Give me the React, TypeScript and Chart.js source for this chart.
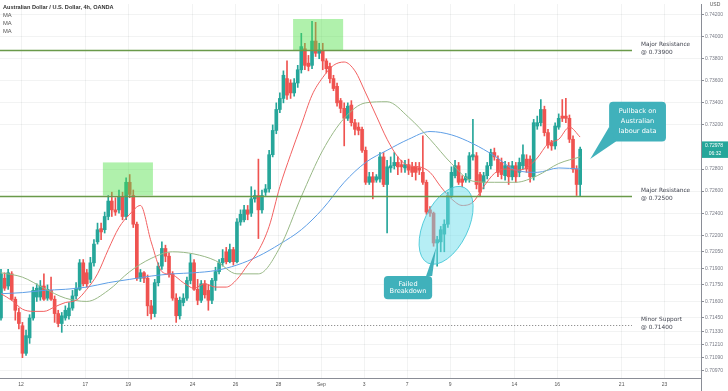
import React, { useEffect, useRef } from 'react';
import { Chart, registerables } from 'chart.js';

Chart.register(...registerables);

// ---------- DATA (AUD/USD 4h, OANDA) ----------
const OPEN = [
  0.7145, 0.7181, 0.7174, 0.7185, 0.7162, 0.7150, 0.7138, 0.7113, 0.7127, 0.7145,
  0.7164, 0.7164, 0.7174, 0.7163, 0.7170, 0.7162, 0.7149, 0.7140, 0.7145, 0.7147,
  0.7154, 0.7165, 0.7171, 0.7195, 0.7186, 0.7180, 0.7195, 0.7214, 0.7226, 0.7225,
  0.7237, 0.7251, 0.7243, 0.7243, 0.7255, 0.7237, 0.7268, 0.7256, 0.7230, 0.7181,
  0.7186, 0.7181, 0.7156, 0.7149, 0.7177, 0.7192, 0.7208, 0.7201, 0.7185, 0.7163,
  0.7147, 0.7159, 0.7163, 0.7179, 0.7195, 0.7171, 0.7161, 0.7176, 0.7170, 0.7161,
  0.7179, 0.7187, 0.7195, 0.7205, 0.7196, 0.7207, 0.7196, 0.7232, 0.7234, 0.7243,
  0.7240, 0.7253, 0.7256, 0.7243, 0.7259, 0.7262, 0.7293, 0.7315, 0.7334, 0.7344,
  0.7362, 0.7358, 0.7349, 0.7358, 0.7370, 0.7389, 0.7376, 0.7374, 0.7396, 0.7385,
  0.7387, 0.7378, 0.7373, 0.7362, 0.7355, 0.7342, 0.7335, 0.7326, 0.7338, 0.7322,
  0.7318, 0.7316, 0.7297, 0.7268, 0.7273, 0.7270, 0.7271, 0.7291, 0.7266, 0.7281,
  0.7283, 0.7286, 0.7284, 0.7281, 0.7284, 0.7282, 0.7282, 0.7281, 0.7277, 0.7268,
  0.7243, 0.7240, 0.7213, 0.7214, 0.7221, 0.7230, 0.7256, 0.7274, 0.7283, 0.7271,
  0.7270, 0.7271, 0.7291, 0.7292, 0.7275, 0.7268, 0.7274, 0.7283, 0.7295, 0.7289,
  0.7286, 0.7274, 0.7283, 0.7273, 0.7283, 0.7277, 0.7283, 0.7289, 0.7289, 0.7273,
  0.7319, 0.7322, 0.7334, 0.7313, 0.7304, 0.7301, 0.7318, 0.7328, 0.7328, 0.7326,
  0.7307, 0.7280, 0.7266,
];
const HIGH = [
  0.7189, 0.7186, 0.7189, 0.7187, 0.7164, 0.7154, 0.7141, 0.7134, 0.7148, 0.7173,
  0.7176, 0.7179, 0.7185, 0.7175, 0.7182, 0.7165, 0.7152, 0.7150, 0.7156, 0.7159,
  0.7170, 0.7177, 0.7198, 0.7198, 0.7189, 0.7200, 0.7216, 0.7231, 0.7231, 0.7241,
  0.7256, 0.7259, 0.7254, 0.7261, 0.7259, 0.7272, 0.7275, 0.7261, 0.7232, 0.7189,
  0.7187, 0.7184, 0.7161, 0.7180, 0.7195, 0.7214, 0.7211, 0.7204, 0.7187, 0.7167,
  0.7164, 0.7167, 0.7182, 0.7203, 0.7198, 0.7180, 0.7179, 0.7179, 0.7175, 0.7181,
  0.7191, 0.7198, 0.7207, 0.7209, 0.7212, 0.7209, 0.7235, 0.7243, 0.7247, 0.7247,
  0.7264, 0.7261, 0.7289, 0.7261, 0.7266, 0.7297, 0.7320, 0.7340, 0.7349, 0.7369,
  0.7378, 0.7361, 0.7362, 0.7374, 0.7403, 0.7394, 0.7383, 0.7414, 0.7413, 0.7394,
  0.7394, 0.7380, 0.7376, 0.7365, 0.7358, 0.7344, 0.7340, 0.7340, 0.7342, 0.7325,
  0.7322, 0.7318, 0.7300, 0.7277, 0.7277, 0.7275, 0.7295, 0.7295, 0.7288, 0.7291,
  0.7295, 0.7291, 0.7288, 0.7288, 0.7289, 0.7286, 0.7286, 0.7286, 0.7310, 0.7270,
  0.7246, 0.7241, 0.7219, 0.7228, 0.7234, 0.7259, 0.7282, 0.7288, 0.7286, 0.7274,
  0.7276, 0.7295, 0.7325, 0.7295, 0.7277, 0.7277, 0.7286, 0.7298, 0.7299, 0.7292,
  0.7290, 0.7287, 0.7286, 0.7287, 0.7286, 0.7290, 0.7302, 0.7293, 0.7292, 0.7325,
  0.7328, 0.7343, 0.7337, 0.7316, 0.7306, 0.7322, 0.7330, 0.7343, 0.7344, 0.7329,
  0.7310, 0.7283, 0.7300,
];
const LOW = [
  0.7143, 0.7170, 0.7171, 0.7161, 0.7143, 0.7135, 0.7109, 0.7111, 0.7122, 0.7143,
  0.7160, 0.7161, 0.7161, 0.7161, 0.7161, 0.7141, 0.7137, 0.7132, 0.7143, 0.7144,
  0.7152, 0.7162, 0.7170, 0.7174, 0.7173, 0.7177, 0.7192, 0.7212, 0.7216, 0.7222,
  0.7234, 0.7237, 0.7238, 0.7240, 0.7234, 0.7234, 0.7254, 0.7227, 0.7179, 0.7178,
  0.7177, 0.7147, 0.7144, 0.7146, 0.7174, 0.7189, 0.7196, 0.7182, 0.7161, 0.7141,
  0.7144, 0.7156, 0.7161, 0.7176, 0.7170, 0.7157, 0.7159, 0.7163, 0.7152, 0.7158,
  0.7170, 0.7185, 0.7192, 0.7194, 0.7195, 0.7193, 0.7195, 0.7229, 0.7232, 0.7234,
  0.7237, 0.7250, 0.7217, 0.7240, 0.7256, 0.7259, 0.7291, 0.7312, 0.7331, 0.7340,
  0.7343, 0.7344, 0.7346, 0.7354, 0.7367, 0.7370, 0.7369, 0.7371, 0.7382, 0.7380,
  0.7370, 0.7367, 0.7358, 0.7351, 0.7337, 0.7331, 0.7301, 0.7324, 0.7319, 0.7311,
  0.7311, 0.7295, 0.7266, 0.7266, 0.7253, 0.7268, 0.7268, 0.7264, 0.7222, 0.7277,
  0.7280, 0.7275, 0.7277, 0.7277, 0.7275, 0.7273, 0.7270, 0.7275, 0.7266, 0.7239,
  0.7237, 0.7210, 0.7192, 0.7205, 0.7205, 0.7227, 0.7254, 0.7272, 0.7266, 0.7264,
  0.7268, 0.7268, 0.7288, 0.7262, 0.7255, 0.7262, 0.7271, 0.7280, 0.7288, 0.7273,
  0.7271, 0.7270, 0.7266, 0.7270, 0.7268, 0.7273, 0.7280, 0.7277, 0.7268, 0.7270,
  0.7316, 0.7319, 0.7310, 0.7299, 0.7297, 0.7298, 0.7316, 0.7323, 0.7322, 0.7304,
  0.7277, 0.7256, 0.7255,
];
const CLOSE = [
  0.7185, 0.7172, 0.7186, 0.7162, 0.7152, 0.7140, 0.7113, 0.7129, 0.7145, 0.7170,
  0.7172, 0.7174, 0.7162, 0.7171, 0.7162, 0.7149, 0.7140, 0.7147, 0.7152, 0.7154,
  0.7165, 0.7172, 0.7195, 0.7176, 0.7176, 0.7195, 0.7212, 0.7225, 0.7223, 0.7237,
  0.7251, 0.7243, 0.7241, 0.7255, 0.7237, 0.7268, 0.7257, 0.7230, 0.7181, 0.7186,
  0.7181, 0.7156, 0.7149, 0.7177, 0.7192, 0.7208, 0.7201, 0.7185, 0.7163, 0.7147,
  0.7161, 0.7163, 0.7179, 0.7195, 0.7171, 0.7161, 0.7176, 0.7166, 0.7161, 0.7179,
  0.7187, 0.7195, 0.7199, 0.7196, 0.7207, 0.7196, 0.7232, 0.7239, 0.7243, 0.7239,
  0.7253, 0.7256, 0.7243, 0.7256, 0.7262, 0.7293, 0.7315, 0.7334, 0.7344, 0.7365,
  0.7347, 0.7349, 0.7358, 0.7370, 0.7391, 0.7374, 0.7373, 0.7396, 0.7385, 0.7388,
  0.7378, 0.7371, 0.7362, 0.7353, 0.7340, 0.7335, 0.7326, 0.7337, 0.7322, 0.7316,
  0.7315, 0.7297, 0.7268, 0.7273, 0.7268, 0.7273, 0.7291, 0.7266, 0.7282, 0.7283,
  0.7286, 0.7282, 0.7282, 0.7284, 0.7279, 0.7277, 0.7277, 0.7279, 0.7268, 0.7241,
  0.7240, 0.7213, 0.7216, 0.7225, 0.7230, 0.7256, 0.7277, 0.7283, 0.7268, 0.7268,
  0.7273, 0.7292, 0.7293, 0.7266, 0.7259, 0.7274, 0.7283, 0.7295, 0.7291, 0.7277,
  0.7275, 0.7283, 0.7273, 0.7283, 0.7273, 0.7286, 0.7293, 0.7280, 0.7273, 0.7322,
  0.7322, 0.7334, 0.7313, 0.7302, 0.7301, 0.7319, 0.7326, 0.7326, 0.7326, 0.7307,
  0.7280, 0.7266, 0.7298,
];

// Moving averages, read at sampled candle positions
const MA_FAST_AT = [
  0, 3, 6, 9, 12, 15, 18, 21, 24, 27, 30, 33, 36, 39, 42, 45, 48, 51, 54, 57,
  60, 63, 66, 69, 72, 75, 78, 81, 84, 87, 90, 93, 96, 99, 102, 105, 108, 111, 114, 117,
  120, 123, 126, 129, 132, 135, 138, 141, 144, 147, 150, 153, 156, 159, 162,
];
const MA_FAST = [
  0.7167, 0.7161, 0.7153, 0.7151, 0.7151, 0.7155, 0.7159, 0.7161, 0.7171, 0.7185,
  0.7207, 0.7227, 0.7239, 0.7247, 0.7214, 0.7187, 0.7184, 0.7177, 0.7172, 0.7176,
  0.7173, 0.7173, 0.7180, 0.7193, 0.7206, 0.7228, 0.7264, 0.7293, 0.7320, 0.7347,
  0.7363, 0.7374, 0.7377, 0.7369, 0.7349, 0.7328, 0.7307, 0.7291, 0.7283, 0.7282,
  0.7277, 0.7264, 0.7253, 0.7247, 0.7250, 0.7264, 0.7276, 0.7280, 0.7279, 0.7281,
  0.7290, 0.7303, 0.7307, 0.7318, 0.7309,
];
const MA_SLOW_AT = [
  0, 6, 12, 18, 24, 30, 36, 42, 48, 54, 60, 66, 72, 78, 84, 90, 96, 102, 108, 114,
  120, 126, 132, 138, 144, 150, 156, 162,
];
const MA_MID = [
  0.7186, 0.7182, 0.7172, 0.7163, 0.7160, 0.7170, 0.7187, 0.7199, 0.7205, 0.7203,
  0.7197, 0.7185, 0.7185, 0.7209, 0.7255, 0.7297, 0.7326, 0.7340, 0.7341, 0.7327,
  0.7307, 0.7285, 0.7269, 0.7268, 0.7268, 0.7274, 0.7285, 0.7291,
];
const MA_SLOW = [
  0.7167, 0.7168, 0.7170, 0.7171, 0.7173, 0.7177, 0.7180, 0.7183, 0.7185, 0.7186,
  0.7188, 0.7193, 0.7201, 0.7212, 0.7225, 0.7244, 0.7268, 0.7286, 0.7297, 0.7307,
  0.7314, 0.7311, 0.7303, 0.7292, 0.7279, 0.7277, 0.7281, 0.7280,
];

// Axis ticks
const X_TICK_AT = [5.6, 23.6, 35.6, 53.6, 65.6, 77.6, 89.6, 101.6, 113.6, 125.6, 143.6, 155.6, 173.6, 185.6];
const X_TICK_LABELS = ['12', '17', '19', '24', '26', '28', 'Sep', '3', '7', '9', '14', '16', '21', '23'];
const Y_TICKS = [
  0.742, 0.74, 0.738, 0.736, 0.734, 0.732, 0.728, 0.726, 0.724, 0.722, 0.7205,
  0.719, 0.7175, 0.716, 0.7145, 0.7133, 0.7121, 0.7109, 0.7097,
];
const Y_MIN = 0.70906;
const Y_MAX = 0.74296;
const X_MIN = -0.28;
const X_MAX = 195.8;

const LAST_PRICE = 0.72978;
const LAST_TIME = '06:32';

// Annotations (in candle-index / price space)
const LEVELS = [
  { price: 0.7388, from: null, to: 176.5, dotted: false, text: ['Major Resistance', '@ 0.73900'] },
  { price: 0.7256, from: null, to: 176.5, dotted: false, text: ['Major Resistance', '@ 0.72500'] },
  { price: 0.7139, from: 16, to: 176.5, dotted: true, text: ['Minor Support', '@ 0.71400'] },
];
const ZONES = [
  { from: 28.5, to: 42.5, top: 0.7286, bottom: 0.7256 },
  { from: 81.7, to: 95.7, top: 0.7416, bottom: 0.7387 },
];
const ELLIPSE = { x: 124.5, y: 0.7229, rx: 6.2, ry: 0.0038, rot: 0.45 };
const CALLOUTS = [
  {
    lines: ['Failed', 'Breakdown'],
    from: 107.1, to: 120.6, top: 0.7183, bottom: 0.7162,
    pointer: [[118.9, 0.7183], [120.6, 0.7183], [121.7, 0.7209]],
  },
  {
    lines: ['Pullback on', 'Australian', 'labour data'],
    from: 170.1, to: 186.0, top: 0.7341, bottom: 0.7305,
    pointer: [[170.1, 0.7318], [172.0, 0.7305], [164.8, 0.7289]],
  },
];

const GREEN = '#26a69a';
const RED = '#ef5350';
const AXIS_FONT = "'Liberation Sans', Arial, sans-serif";
const ANN_FONT = "'DejaVu Sans', sans-serif";

const overlay = {
  id: 'overlay',
  afterDatasetsDraw(chart: any) {
    const { ctx, chartArea: a, scales } = chart;
    const x = scales.x;
    const y = scales.y;
    ctx.save();
    ctx.beginPath();
    ctx.rect(a.left, a.top, a.right - a.left, a.bottom - a.top);
    ctx.clip();

    // highlight zones
    ctx.fillStyle = 'rgba(80,225,70,0.45)';
    for (const z of ZONES) {
      const x0 = x.getPixelForValue(z.from);
      const x1 = x.getPixelForValue(z.to);
      const y0 = y.getPixelForValue(z.top);
      const y1 = y.getPixelForValue(z.bottom);
      ctx.fillRect(x0, y0, x1 - x0, y1 - y0);
    }

    // ellipse
    const cx = x.getPixelForValue(ELLIPSE.x);
    const cy = y.getPixelForValue(ELLIPSE.y);
    const rx = Math.abs(x.getPixelForValue(ELLIPSE.x + ELLIPSE.rx) - cx);
    const ry = Math.abs(y.getPixelForValue(ELLIPSE.y + ELLIPSE.ry) - cy);
    ctx.beginPath();
    ctx.ellipse(cx, cy, rx, ry, ELLIPSE.rot, 0, Math.PI * 2);
    ctx.fillStyle = 'rgba(110,222,235,0.5)';
    ctx.fill();
    ctx.strokeStyle = 'rgba(70,200,215,0.9)';
    ctx.lineWidth = 1;
    ctx.stroke();

    // levels
    for (const l of LEVELS) {
      const py = Math.round(y.getPixelForValue(l.price)) + 0.5;
      const x0 = l.from === null ? a.left : x.getPixelForValue(l.from);
      const x1 = x.getPixelForValue(l.to);
      ctx.beginPath();
      ctx.moveTo(x0, py);
      ctx.lineTo(x1, py);
      if (l.dotted) {
        ctx.setLineDash([1, 2]);
        ctx.strokeStyle = '#7a7a7a';
        ctx.lineWidth = 1;
      } else {
        ctx.setLineDash([]);
        ctx.strokeStyle = '#6a9a4a';
        ctx.lineWidth = 1.3;
      }
      ctx.stroke();
      ctx.setLineDash([]);
    }
    ctx.restore();
  },
  afterDraw(chart: any) {
    const { ctx, chartArea: a, scales } = chart;
    const x = scales.x;
    const y = scales.y;
    ctx.save();

    // level labels
    ctx.fillStyle = '#434651';
    ctx.font = `5.8px ${ANN_FONT}`;
    ctx.textAlign = 'left';
    ctx.textBaseline = 'middle';
    for (const l of LEVELS) {
      const py = y.getPixelForValue(l.price);
      const tx = x.getPixelForValue(l.to) + 9;
      ctx.fillText(l.text[0], tx, py - 5);
      ctx.fillText(l.text[1], tx, py + 2.5);
    }

    // callouts
    for (const c of CALLOUTS) {
      const x0 = x.getPixelForValue(c.from);
      const x1 = x.getPixelForValue(c.to);
      const y0 = y.getPixelForValue(c.top);
      const y1 = y.getPixelForValue(c.bottom);
      ctx.fillStyle = 'rgb(64,177,187)';
      ctx.beginPath();
      (ctx as any).roundRect(x0, y0, x1 - x0, y1 - y0, 4);
      ctx.fill();
      ctx.beginPath();
      c.pointer.forEach((p: number[], k: number) => {
        const px = x.getPixelForValue(p[0]);
        const py = y.getPixelForValue(p[1]);
        if (k === 0) ctx.moveTo(px, py); else ctx.lineTo(px, py);
      });
      ctx.closePath();
      ctx.fill();
      ctx.fillStyle = '#ffffff';
      ctx.font = `6.6px ${ANN_FONT}`;
      ctx.textAlign = 'center';
      const n = c.lines.length;
      const step = n === 2 ? 7.5 : 10;
      const mid = (y0 + y1) / 2;
      c.lines.forEach((t: string, k: number) => {
        ctx.fillText(t, (x0 + x1) / 2, mid + (k - (n - 1) / 2) * step);
      });
    }

    // title and indicator labels
    ctx.textAlign = 'left';
    ctx.fillStyle = '#333333';
    ctx.font = `bold 5.6px ${AXIS_FONT}`;
    ctx.fillText('Australian Dollar / U.S. Dollar, 4h, OANDA', 3, 7);
    ctx.fillStyle = '#555555';
    ctx.font = `5.8px ${AXIS_FONT}`;
    ctx.fillText('MA', 3, 15);
    ctx.fillText('MA', 3, 23);
    ctx.fillText('MA', 3, 31);

    // USD
    ctx.textAlign = 'center';
    ctx.fillStyle = '#555555';
    ctx.font = `5px ${AXIS_FONT}`;
    ctx.fillText('USD', 715, 5);

    // last price label
    const lp = y.getPixelForValue(LAST_PRICE);
    ctx.fillStyle = GREEN;
    ctx.fillRect(a.right + 1, lp - 8, chart.width - a.right - 1, 16.5);
    ctx.fillStyle = '#ffffff';
    ctx.font = `5px ${AXIS_FONT}`;
    ctx.textAlign = 'left';
    ctx.fillText(LAST_PRICE.toFixed(5), a.right + 4, lp - 3.5);
    ctx.textAlign = 'center';
    ctx.fillText(LAST_TIME, a.right + 14, lp + 4);

    // axis line extends to bottom
    ctx.strokeStyle = '#8a8d96';
    ctx.lineWidth = 1;
    ctx.beginPath();
    ctx.moveTo(a.right + 0.5, a.bottom);
    ctx.lineTo(a.right + 0.5, chart.height);
    ctx.stroke();
    ctx.restore();
  },
};

export default function App() {
  const ref = useRef<HTMLCanvasElement | null>(null);

  useEffect(() => {
    const canvas = ref.current;
    if (!canvas) return;
    const idx = OPEN.map((_, i) => i);
    const colors = idx.map((i) => (CLOSE[i] >= OPEN[i] ? GREEN : RED));

    const chart = new Chart(canvas, {
      type: 'bar',
      data: {
        datasets: [
          {
            type: 'line',
            label: 'MA fast',
            data: MA_FAST_AT.map((k, j) => ({ x: k, y: MA_FAST[j] })),
            borderColor: '#f26161',
            borderWidth: 1,
            pointRadius: 0,
            cubicInterpolationMode: 'monotone',
            fill: false,
            order: -1,
          } as any,
          {
            type: 'line',
            label: 'MA mid',
            data: MA_SLOW_AT.map((k, j) => ({ x: k, y: MA_MID[j] })),
            borderColor: '#98b886',
            borderWidth: 1,
            pointRadius: 0,
            cubicInterpolationMode: 'monotone',
            fill: false,
            order: -1,
          } as any,
          {
            type: 'line',
            label: 'MA slow',
            data: MA_SLOW_AT.map((k, j) => ({ x: k, y: MA_SLOW[j] })),
            borderColor: '#5f9fe6',
            borderWidth: 1,
            pointRadius: 0,
            cubicInterpolationMode: 'monotone',
            fill: false,
            order: -1,
          } as any,
          {
            type: 'bar',
            label: 'body',
            data: idx.map((i) => ({ x: i, y: [OPEN[i], CLOSE[i]] })),
            backgroundColor: colors,
            borderWidth: 0,
            barThickness: 3,
            minBarLength: 1,
            grouped: false,
            order: 1,
          } as any,
          {
            type: 'bar',
            label: 'wick',
            data: idx.map((i) => ({ x: i, y: [LOW[i], HIGH[i]] })),
            backgroundColor: colors,
            borderWidth: 0,
            barThickness: 1,
            grouped: false,
            order: 2,
          } as any,
        ],
      },
      options: {
        responsive: false,
        devicePixelRatio: 1,
        animation: false,
        events: [],
        layout: { padding: 0 },
        plugins: { legend: { display: false }, tooltip: { enabled: false } },
        scales: {
          x: {
            type: 'linear',
            min: X_MIN,
            max: X_MAX,
            offset: false,
            afterBuildTicks: (s: any) => {
              s.ticks = X_TICK_AT.map((v) => ({ value: v }));
            },
            afterFit: (s: any) => {
              s.height = 13;
            },
            ticks: {
              autoSkip: false,
              maxRotation: 0,
              padding: 4,
              color: '#555555',
              font: { family: AXIS_FONT, size: 5 },
              callback: (_v: any, i: number) => X_TICK_LABELS[i],
            },
            grid: { color: 'rgba(42,46,57,0.06)', drawTicks: false, offset: false },
            border: { display: true, color: '#8a8d96' },
          },
          y: {
            type: 'linear',
            position: 'right',
            min: Y_MIN,
            max: Y_MAX,
            beginAtZero: false,
            afterBuildTicks: (s: any) => {
              s.ticks = Y_TICKS.map((v) => ({ value: v }));
            },
            afterFit: (s: any) => {
              s.width = 27;
            },
            ticks: {
              autoSkip: false,
              padding: 1,
              color: '#787b86',
              font: { family: AXIS_FONT, size: 5 },
              callback: (v: any) => Number(v).toFixed(5),
            },
            grid: { color: 'rgba(42,46,57,0.06)', tickColor: '#8a8d96', tickLength: 3 },
            border: { display: true, color: '#8a8d96' },
          },
        },
      } as any,
      plugins: [overlay],
    });
    return () => chart.destroy();
  }, []);

  return (
    <div style={{ position: 'absolute', left: 0, top: 0, width: 728, height: 391, background: '#ffffff' }}>
      <canvas ref={ref} width={728} height={391} style={{ display: 'block', width: 728, height: 391 }} />
    </div>
  );
}
